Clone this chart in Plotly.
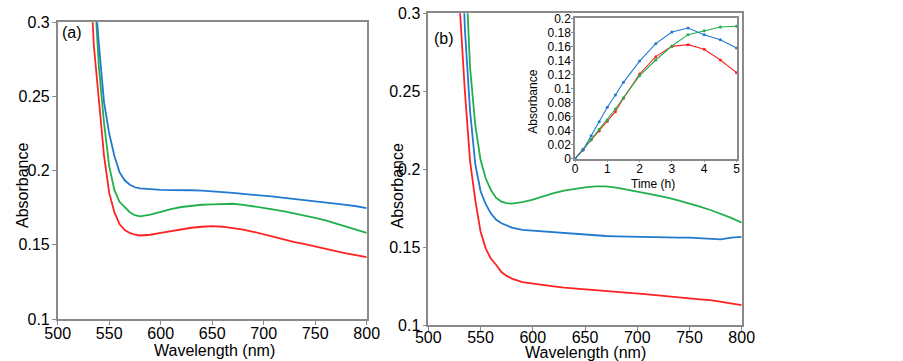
import plotly.graph_objects as go

W, H = 903, 361

# ---------------- data ----------------
wl = [525, 530, 535, 540, 545, 550, 555, 560, 565, 570, 575, 580, 590, 600, 610, 620, 630, 640,
      650, 660, 670, 680, 690, 700, 710, 720, 730, 740, 750, 760, 770, 780, 790, 800]

# panel (a)
a_blue = [0.48, 0.40, 0.33, 0.285, 0.246, 0.225, 0.210, 0.199, 0.1935, 0.1905, 0.1888, 0.1880,
          0.1874, 0.1871, 0.1869, 0.1870, 0.1868, 0.1866, 0.1862, 0.1856, 0.1850, 0.1843, 0.1838,
          0.1832, 0.1825, 0.1817, 0.1810, 0.1802, 0.1794, 0.1786, 0.1778, 0.1770, 0.1760, 0.1748]
a_green = [0.52, 0.42, 0.33, 0.27, 0.232, 0.203, 0.187, 0.179, 0.1755, 0.172, 0.170, 0.1692,
           0.1703, 0.1724, 0.1740, 0.1755, 0.1765, 0.1770, 0.1772, 0.1777, 0.1777, 0.1770, 0.1760,
           0.1749, 0.1738, 0.1725, 0.1712, 0.1697, 0.1682, 0.1665, 0.1645, 0.1625, 0.1603, 0.1580]
a_red = [0.45, 0.36, 0.285, 0.245, 0.210, 0.185, 0.172, 0.164, 0.160, 0.158, 0.1568, 0.1563,
         0.1568, 0.1580, 0.1593, 0.1605, 0.1615, 0.1622, 0.1626, 0.1622, 0.1613, 0.1603, 0.1588,
         0.1570, 0.1553, 0.1535, 0.1518, 0.1505, 0.1491, 0.1475, 0.1458, 0.1443, 0.1430, 0.1417]

# panel (b)
b_green = [0.52, 0.42, 0.34, 0.265, 0.228, 0.206, 0.194, 0.1865, 0.1815, 0.1792, 0.1782, 0.1779,
           0.1788, 0.1804, 0.1826, 0.1846, 0.1862, 0.1873, 0.1883, 0.1890, 0.1889, 0.1881, 0.1870,
           0.1856, 0.1843, 0.1830, 0.1815, 0.1798, 0.1780, 0.1760, 0.1738, 0.1713, 0.1687, 0.1657]
b_blue = [0.48, 0.38, 0.29, 0.237, 0.203, 0.186, 0.1775, 0.1715, 0.1675, 0.1653, 0.1638, 0.1625,
          0.1610, 0.1605, 0.1600, 0.1595, 0.1589, 0.1583, 0.1577, 0.1574, 0.1571, 0.1569, 0.1567,
          0.1566, 0.1563, 0.1562, 0.1561, 0.1560, 0.1560, 0.1556, 0.1551, 0.1549, 0.1560, 0.1566]
b_red = [0.40, 0.305, 0.25, 0.205, 0.180, 0.160, 0.149, 0.1425, 0.1385, 0.134, 0.1315, 0.1298,
         0.1275, 0.1265, 0.1255, 0.1248, 0.1240, 0.1235, 0.1229, 0.1225, 0.1220, 0.1213, 0.1208,
         0.1203, 0.1197, 0.1190, 0.1183, 0.1177, 0.1171, 0.1165, 0.1160, 0.1150, 0.1142, 0.1128]

# inset
t_h = [0, 0.25, 0.5, 0.75, 1, 1.25, 1.5, 2, 2.5, 3, 3.5, 4, 4.5, 5]
ins_blue = [0, 0.0124, 0.0328, 0.0527, 0.0732, 0.0907, 0.1088, 0.139, 0.1639, 0.1805, 0.1862,
            0.1767, 0.1696, 0.1577]
ins_red = [0, 0.0133, 0.0266, 0.0394, 0.0532, 0.067, 0.086, 0.1207, 0.1454, 0.160, 0.1625,
           0.1558, 0.1406, 0.1226]
ins_green = [0, 0.0124, 0.0276, 0.0418, 0.0551, 0.0708, 0.0869, 0.1183, 0.1406, 0.1606, 0.1767,
             0.1824, 0.1876, 0.1886]

wl_ticks = [500, 550, 600, 650, 700, 750, 800]
abs_ticks = [0.1, 0.15, 0.2, 0.25, 0.3]

RED, GREEN, BLUE = "#ff2222", "#1fb04c", "#2279cf"
FONT = "Liberation Sans, Arial, sans-serif"
AXC = "#8a8a8a"


def px_x(x):
    return x / W


def px_y(y):
    return (H - y) / H


fig = go.Figure()

for y, c in [(a_red, RED), (a_green, GREEN), (a_blue, BLUE)]:
    fig.add_trace(go.Scatter(x=wl, y=y, mode="lines", line=dict(color=c, width=1.8),
                             xaxis="x", yaxis="y", showlegend=False))
for y, c in [(b_red, RED), (b_blue, BLUE), (b_green, GREEN)]:
    fig.add_trace(go.Scatter(x=wl, y=y, mode="lines", line=dict(color=c, width=1.8),
                             xaxis="x2", yaxis="y2", showlegend=False))
for y, c in [(ins_red, RED), (ins_green, GREEN), (ins_blue, BLUE)]:
    fig.add_trace(go.Scatter(x=t_h, y=y, mode="lines+markers",
                             line=dict(color=c, width=1.1), marker=dict(color=c, size=3),
                             xaxis="x3", yaxis="y3", showlegend=False, cliponaxis=False))

common = dict(showline=True, mirror=True, linecolor=AXC, linewidth=1.5, ticks="outside",
              tickcolor=AXC, ticklen=4, tickwidth=1, showgrid=False, zeroline=False,
              automargin=False,
              tickfont=dict(family=FONT, size=16, color="black"))
inset_ax = dict(showline=True, mirror=True, linecolor=AXC, linewidth=1.5, ticks="outside",
                tickcolor=AXC, ticklen=2, tickwidth=1, showgrid=False, zeroline=False,
                automargin=False,
                tickfont=dict(family=FONT, size=12, color="black"))

fig.update_layout(
    width=W, height=H, margin=dict(l=0, r=0, t=0, b=0, autoexpand=False),
    paper_bgcolor="white", plot_bgcolor="white",
    font=dict(family=FONT, size=16, color="black"),
    xaxis=dict(domain=[px_x(57.7), px_x(366.7)], range=[500, 800], tickvals=wl_ticks,
               anchor="y", ticklabelstandoff=-5, **common),
    yaxis=dict(domain=[px_y(319), px_y(22.3)], range=[0.1, 0.3], tickvals=abs_ticks,
               anchor="x", ticklabelstandoff=-1, **common),
    xaxis2=dict(domain=[px_x(428.3), px_x(741.7)], range=[500, 800], tickvals=wl_ticks,
                anchor="y2", ticklabelstandoff=-7, **common),
    yaxis2=dict(domain=[px_y(325), px_y(13.3)], range=[0.1, 0.3], tickvals=abs_ticks,
                anchor="x2", ticklabelstandoff=-1, **common),
    xaxis3=dict(domain=[px_x(575), px_x(736.5)], range=[0, 5], dtick=1, tick0=0,
                anchor="y3", ticklabelstandoff=-4, **inset_ax),
    yaxis3=dict(domain=[px_y(158.7), px_y(18.3)], range=[0, 0.2], dtick=0.02, tick0=0,
                anchor="x3", ticklabelstandoff=-2, **inset_ax),
)

ann = [
    ("Wavelength (nm)", 214, 350.5, 16, 0),
    ("Wavelength (nm)", 585.6, 352, 16, 0),
    ("Absorbance", 22, 186, 16, -90),
    ("Absorbance", 396.5, 186, 16, -90),
    ("Absorbance", 533, 101.7, 12, -90),
    ("Time (h)", 653, 184, 12, 0),
    ("(a)", 72, 32.5, 16, 0),
    ("(b)", 443.7, 38.3, 16, 0),
]
for text, x, y, s, ang in ann:
    fig.add_annotation(text=text, x=px_x(x), y=px_y(y), xref="paper", yref="paper",
                       xanchor="center", yanchor="middle", showarrow=False, textangle=ang,
                       font=dict(family=FONT, size=s, color="black"))

fig.write_html("out.html", config={"displayModeBar": False},
               post_script="document.body.style.margin='0px';document.body.style.overflow='hidden';")
